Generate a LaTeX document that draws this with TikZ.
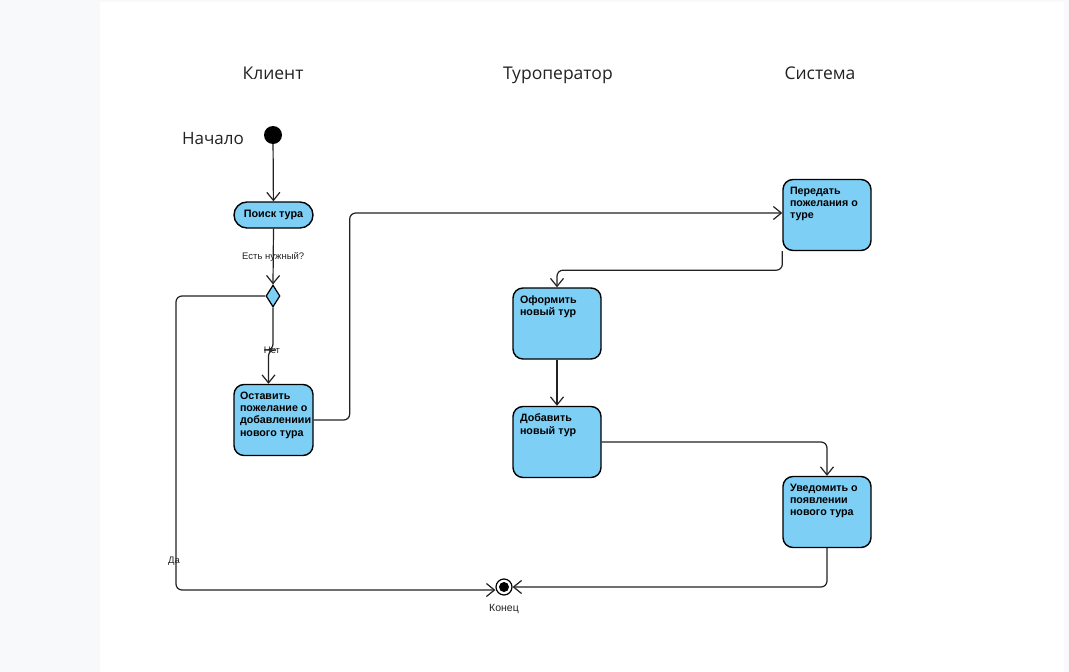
\documentclass[tikz,border=0pt]{standalone}
\usepackage{fontspec}
\setmainfont{Liberation Sans}
\newfontfamily\headfont{Open Sans}
\usetikzlibrary{arrows.meta,shapes.geometric}
\definecolor{actfill}{HTML}{7DCFF5}
\definecolor{pagegray}{HTML}{F8F9FA}
\definecolor{ink}{HTML}{222222}
% activity label: top-aligned block of unbreakable lines
\newcommand{\acttext}[2]{\parbox[t][56pt][t]{#1}{\raggedright #2}}
\newcommand{\actline}[1]{\mbox{#1}}
\begin{document}
\begin{tikzpicture}[x=1pt,y=-1pt,
  act/.style={draw=black, line width=1.4pt, fill=actfill, rounded corners=10pt,
    inner xsep=7pt, inner ysep=7.5pt, font=\bfseries\fontsize{10.7}{12.2}\selectfont},
  pill/.style={draw=black, line width=1.4pt, fill=actfill, rounded corners=13pt,
    minimum width=79pt, minimum height=26pt, inner sep=0pt,
    font=\bfseries\fontsize{10.8}{12.2}\selectfont},
  decision/.style={draw=black, line width=1.2pt, fill=actfill, diamond,
    minimum width=14pt, minimum height=22pt, inner sep=0pt},
  initial/.style={circle, fill=black, minimum size=18pt, inner sep=0pt},
  final/.style={circle, draw=black, line width=1.2pt, fill=white, minimum size=16pt,
    inner sep=0pt, path picture={\fill[black] (path picture bounding box.center) circle (5pt);}},
  arr/.style={draw=ink, line width=1.2pt, rounded corners=6pt,
    -{Straight Barb[length=8pt,width=13pt]}},
  lane/.style={font=\headfont\fontsize{17.5}{20}\selectfont, text=ink, anchor=base},
  lbl/.style={font=\fontsize{9.5}{11}\selectfont, inner sep=1pt, text=ink}
]
\useasboundingbox (0,0) rectangle (1069,672);
\fill[pagegray] (0,0) rectangle (1069,672);
\fill[white] (100,2) rectangle (1064,672);

% swimlane titles
\node[lane] (laneA) at (273,79) {Клиент};
\node[lane] (laneB) at (558,79) {Туроператор};
\node[lane] (laneC) at (820,79) {Система};

% start
\node[initial] (start) at (273,135) {};
\node[font=\headfont\fontsize{17}{19}\selectfont, text=ink, anchor=base] (startlbl) at (213,144) {Начало};

% activities
\node[pill] (poisk) at (273.5,215) {Поиск тура};
\node[decision] (dia) at (273,296) {};
\node[act, inner xsep=6pt] (ost) at (273.5,420) {\acttext{67pt}{\actline{Оставить}\\\actline{пожелание о}\\\actline{добавлениии}\\\actline{нового тура}}};
\node[act] (pered) at (827,215) {\acttext{74pt}{\actline{Передать}\\\actline{пожелания о}\\\actline{туре}}};
\node[act] (oform) at (557,323.5) {\acttext{74pt}{\actline{Оформить}\\\actline{новый тур}}};
\node[act] (dob) at (557,442) {\acttext{74pt}{\actline{Добавить}\\\actline{новый тур}}};
\node[act] (uved) at (827,512) {\acttext{74pt}{\actline{Уведомить о}\\\actline{появлении}\\\actline{нового тура}}};

% end
\node[final] (fin) at (504,587) {};
\node[font=\fontsize{10.5}{12}\selectfont, text=ink] (finlbl) at (504,609) {Конец};

% flows
\draw[arr] (start) -- (poisk);
\draw[arr] (poisk.south) -- node[lbl] {Есть нужный?} (dia.north);
\draw[arr] (dia.south) |- (270,350) -| ([xshift=-5pt]ost.north);
\node[lbl] (net) at (272,350) {Нет};
\draw[arr] (dia.west) -| (176,590) -- ([yshift=-3pt]fin.west);
\node[lbl] (da) at (174,561) {Да};
\draw[arr] (ost.east) -- ++(36,0) |- ([yshift=2pt]pered.west);
\draw[arr] (pered.south west) -- ++(0,19) -| (oform.north);
\draw[arr] (oform.south) -- (dob.north);
\draw[arr] (dob.east) -| (uved.north);
\draw[arr] (uved.south) |- (fin.east);
\end{tikzpicture}
\end{document}
